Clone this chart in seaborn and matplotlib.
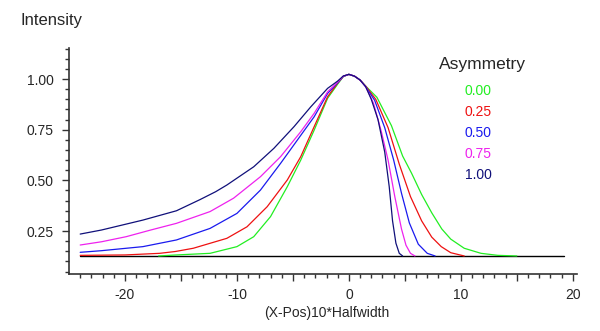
import numpy as np
import seaborn as sns
import matplotlib.pyplot as plt
from matplotlib.ticker import FixedLocator, FuncFormatter

sns.set_style("ticks")
plt.rcParams['font.family'] = ['Liberation Sans', 'DejaVu Sans']

# asymmetry values and their colours
asym_labels = ["0.00", "0.25", "0.50", "0.75", "1.00"]
colors = ["#22ee22", "#ee1111", "#1a1aee", "#ee22ee", "#10107a"]

x_000 = [-17, -15.4, -12.4, -10.0, -8.5, -7.0, -5.5, -4.3, -3.1, -1.9, -1.0, -0.5, 0.0, 0.5, 1.0, 1.5,
         2.5, 3.8, 4.8, 5.6, 6.5, 7.4, 8.3, 9.1, 10.3, 11.8, 13.3, 15.0]
y_000 = [0.127, 0.132, 0.140, 0.173, 0.222, 0.321, 0.469, 0.600, 0.748, 0.905, 0.975, 1.012, 1.023, 1.014, 0.995, 0.965,
         0.91, 0.77, 0.62, 0.535, 0.43, 0.34, 0.26, 0.21, 0.165, 0.14, 0.13, 0.127]

x_025 = [-24, -20, -16.9, -15.5, -13.9, -10.9, -9.1, -7.3, -5.5, -4.3, -3.1, -1.9, -1.0, -0.5, 0.0, 0.5, 1.0, 1.5,
         2.4, 3.5, 4.5, 5.5, 6.5, 7.4, 8.25, 9.1, 10.3]
y_025 = [0.130, 0.132, 0.140, 0.149, 0.165, 0.214, 0.271, 0.370, 0.502, 0.617, 0.765, 0.913, 0.980, 1.013, 1.023, 1.014, 0.995, 0.965,
         0.90, 0.76, 0.58, 0.42, 0.30, 0.22, 0.173, 0.143, 0.127]

x_050 = [-24, -22.1, -18.4, -15.4, -12.4, -10.0, -7.9, -6.1, -4.6, -3.1, -1.9, -1.0, -0.5, 0.0, 0.5, 1.0, 1.5,
         2.3, 3.2, 4.0, 4.7, 5.4, 6.2, 7.0, 7.7]
y_050 = [0.145, 0.153, 0.173, 0.206, 0.263, 0.337, 0.452, 0.584, 0.699, 0.814, 0.929, 0.982, 1.013, 1.023, 1.014, 0.995, 0.962,
         0.895, 0.76, 0.60, 0.436, 0.29, 0.185, 0.14, 0.127]

x_075 = [-24, -22.1, -19.9, -17.7, -15.4, -12.4, -10.3, -7.9, -6.1, -4.3, -3.1, -1.9, -1.0, -0.5, 0.0, 0.5, 1.0, 1.5,
         2.2, 2.9, 3.5, 4.1, 4.7, 5.1, 5.5, 5.9]
y_075 = [0.181, 0.197, 0.222, 0.255, 0.288, 0.346, 0.412, 0.518, 0.617, 0.740, 0.831, 0.937, 0.985, 1.014, 1.023, 1.014, 0.995, 0.962,
         0.88, 0.74, 0.60, 0.42, 0.26, 0.18, 0.14, 0.127]

x_100 = [-24, -22.1, -18.4, -15.4, -13.3, -11.9, -10.9, -8.5, -6.7, -4.9, -3.4, -1.9, -1.0, -0.5, 0.0, 0.5, 1.0, 1.5,
         2.0, 2.6, 3.2, 3.6, 3.9, 4.2, 4.5, 4.8]
y_100 = [0.235, 0.255, 0.304, 0.350, 0.405, 0.444, 0.477, 0.567, 0.658, 0.765, 0.863, 0.954, 0.990, 1.015, 1.023, 1.014, 0.995, 0.962,
         0.90, 0.80, 0.64, 0.47, 0.30, 0.19, 0.14, 0.127]

baseline_x = [-24, 19.2]
baseline_y = [0.127, 0.127]

series = [(x_000, y_000), (x_025, y_025), (x_050, y_050), (x_075, y_075), (x_100, y_100)]

fig = plt.figure(figsize=(6, 3.31), dpi=100)
ax = fig.add_axes([69/600, 57/331, 515/600, 226/331])

sns.lineplot(x=baseline_x, y=baseline_y, color="black", lw=1.0, ax=ax)
for (xs, ys), c in zip(series, colors):
    sns.lineplot(x=xs, y=ys, color=c, lw=0.9, ax=ax, estimator=None, sort=False)

ax.set_xlim(-25, 21)
ax.set_ylim(0.038, 1.153)

sns.despine(ax=ax)
for s in ["left", "bottom"]:
    ax.spines[s].set_color("#333333")
    ax.spines[s].set_linewidth(1.2)
ax.spines["bottom"].set_bounds(-25, 20.4)

ax.xaxis.set_major_locator(FixedLocator(list(range(-20, 21, 5))))
ax.xaxis.set_minor_locator(FixedLocator(list(range(-24, 21))))
ax.xaxis.set_major_formatter(FuncFormatter(lambda v, p: f"{int(round(v))}" if round(v) % 10 == 0 else ""))
ax.yaxis.set_major_locator(FixedLocator([0.25, 0.5, 0.75, 1.0]))
ax.yaxis.set_minor_locator(FixedLocator(list(np.arange(0.05, 1.16, 0.05))))
ax.yaxis.set_major_formatter(FuncFormatter(lambda v, p: f"{v:.2f}"))

ax.tick_params(axis="both", which="major", length=5, width=1, color="#333333", labelsize=10)
ax.tick_params(axis="both", which="minor", length=3, width=1, color="#333333")
ax.tick_params(axis="y", which="major", pad=6)
ax.tick_params(axis="x", which="major", pad=5)

ax.set_xlabel("(X-Pos)10*Halfwidth", fontsize=10, labelpad=3)
ax.set_ylabel("")
fig.text(20/600, 1 - 21/331, "Intensity", fontsize=12, ha="left", va="center")

fig.text(482/600, 1 - 65/331, "Asymmetry", fontsize=12.5, ha="center", va="center")
for i, (lab, c) in enumerate(zip(asym_labels, colors)):
    fig.text(478/600, 1 - (91 + 21.1 * i)/331, lab, fontsize=10, color=c, ha="center", va="center")

fig.savefig("out.png", dpi=100)
